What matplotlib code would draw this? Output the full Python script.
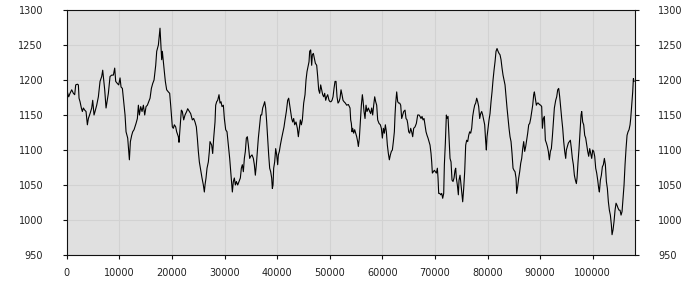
import matplotlib
matplotlib.use("Agg")
import matplotlib.pyplot as plt
from matplotlib.ticker import MultipleLocator

# x positions (sample index) and values
x_vals = [
    0, 127, 380, 634, 951, 1267, 1521, 1711, 2028, 2218, 2345, 2535, 2788, 2978, 3169, 3422, 3675, 3929,
    4119, 4436, 4753, 4943, 5196, 5386, 5703, 6020, 6337, 6654, 6844, 7034, 7224, 7478, 7668, 7921, 8238,
    8555, 8872, 9125, 9315, 9632, 9886, 10139, 10329, 10583, 10836, 11090, 11280, 11597, 11787, 11914,
    12104, 12357, 12547, 12801, 13181, 13434, 13625, 13815, 14068, 14322, 14575, 14829, 15082, 15336,
    15589, 15843, 16096, 16349, 16603, 16920, 17110, 17427,
    17610, 17737, 17863, 18053, 18180, 18370, 18560, 18750, 19004, 19321, 19574, 19764, 19955, 20081,
    20271, 20461, 20715, 20905, 21222, 21349, 21539, 21792, 21982, 22236, 22489, 22806, 22996, 23250,
    23567, 23883, 24137, 24390, 24644, 24834, 25024, 25214, 25468, 25721, 25975, 26165, 26292, 26482,
    26672, 26925, 27115, 27242, 27559, 27749, 27939, 28193, 28319, 28509, 28700, 28953, 29143, 29333,
    29523, 29777, 29967, 30220, 30474, 30727, 30981, 31234, 31488, 31678, 31868, 32058, 32248, 32502,
    32755, 33009, 33199, 33389, 33579, 33769, 33959, 34149, 34339, 34530, 34783, 34973, 35227, 35480,
    35670,
    35859, 36049, 36239, 36429, 36619, 36873, 37063, 37253, 37443, 37633, 37823, 38014, 38204, 38394,
    38584, 38774, 38964, 39091, 39218, 39344, 39534, 39724, 39915, 40105, 40231, 40421, 40612, 40865,
    41118, 41309, 41499, 41752, 42006, 42196, 42386, 42576, 42766, 42956, 43146, 43337, 43590, 43844,
    44034, 44224, 44414, 44604, 44794, 45047, 45301, 45491, 45681, 45871, 46061, 46188, 46378, 46568,
    46695, 46885, 47075, 47265, 47519, 47709, 47899, 48089, 48279, 48470, 48660, 48850, 49040, 49230,
    49420, 49610, 49864, 50054, 50244, 50434, 50624, 50814, 51004, 51194, 51385, 51575, 51765, 51955,
    52145, 52335, 52525, 52715, 52969, 53222, 53539,
    53856, 53982, 54109, 54236, 54363, 54553, 54743, 54933, 55123, 55313, 55440, 55630, 55820, 56010,
    56200, 56327, 56517, 56707, 56897, 57087, 57341, 57594, 57784, 57975, 58165, 58355, 58545, 58735,
    58925, 59115, 59369, 59622, 59812, 60002, 60193, 60383, 60573, 60763, 60953, 61143, 61333, 61523,
    61713, 61904, 62094, 62284, 62411, 62537, 62727, 62917, 63107, 63297, 63488, 63678, 63868, 64058,
    64312, 64502, 64692, 64819, 65009, 65199, 65389, 65579, 65769, 65959, 66213, 66466, 66720, 66973,
    67163, 67353, 67543, 67734, 67924, 68114, 68304, 68494, 68684, 68874, 69064, 69254, 69381, 69508,
    69698, 69888, 70078, 70268, 70458, 70585, 70712, 70902, 71092, 71283, 71473, 71663, 71790,
    71978, 72168, 72295, 72485, 72675, 72865, 73055, 73245, 73435, 73626, 73816, 73942, 74069, 74259,
    74449, 74576, 74766, 74893, 75083, 75273, 75463, 75653, 75843, 76034, 76224, 76414, 76604, 76794,
    76984, 77174, 77364, 77554, 77744, 77935, 78125, 78315, 78505, 78695, 78885, 79075, 79265, 79455,
    79645, 79772, 79899, 80089, 80279, 80469, 80660, 80850, 81040, 81230, 81420, 81610, 81800, 81990,
    82180, 82370, 82561, 82751, 82941, 83131, 83321, 83511, 83701, 83891, 84081, 84272, 84462, 84652,
    84842, 85032, 85222, 85412, 85539, 85729, 85919, 86109, 86300, 86490, 86680, 86870, 87060, 87250,
    87440, 87630, 87820, 88010, 88200, 88391, 88581, 88771, 88898, 89088, 89278, 89468, 89658, 89848,
    90101, 90291, 90418, 90608, 90798, 90988, 91179, 91369, 91559, 91749, 91939, 92129, 92319, 92509,
    92699, 92953, 93143, 93333, 93523, 93713, 93903, 94094, 94284, 94474, 94664, 94854, 94981, 95171,
    95361, 95551, 95741, 95931, 96121, 96312, 96502, 96692, 96882, 97009, 97199, 97389, 97579, 97769,
    97896, 98086, 98276, 98466, 98656, 98846, 99036, 99227, 99417, 99607, 99797, 99987, 100177, 100367,
    100557, 100747, 100938, 101128, 101255, 101445, 101635, 101825, 102015, 102205, 102395, 102585,
    102775, 102965, 103156, 103346, 103536, 103663, 103853, 104043, 104233, 104423, 104613, 104803,
    104993, 105183, 105374, 105564, 105754, 105944, 106134, 106324, 106514, 106704, 106894, 107085,
    107211, 107338, 107465, 107592, 107719, 107845,
]

y_vals = [
    1157, 1183, 1176, 1181, 1186, 1181, 1179, 1193, 1194, 1193, 1174, 1169, 1160, 1155, 1160, 1157, 1155, 1136,
    1145, 1152, 1160, 1171, 1150, 1155, 1164, 1176, 1198, 1205, 1214, 1200, 1186, 1160, 1169, 1181, 1205,
    1207, 1207, 1217, 1198, 1195, 1193, 1203, 1190, 1188, 1169, 1150, 1126, 1117, 1098, 1086,
    1112, 1121, 1126, 1129, 1138, 1145, 1164, 1150, 1162, 1155, 1164, 1150, 1162, 1164,
    1169, 1174, 1188, 1195, 1200, 1221, 1241, 1250,
    1264, 1274, 1255, 1229, 1241, 1226, 1212, 1198, 1186, 1183, 1181, 1164, 1145, 1133,
    1131, 1136, 1133, 1126, 1119, 1111, 1131, 1157, 1155, 1143, 1150, 1155, 1159, 1156,
    1152, 1143, 1145, 1140, 1133, 1117, 1098, 1083, 1071, 1060, 1050, 1040, 1050, 1060,
    1074, 1083, 1098, 1112, 1107, 1095, 1117, 1140, 1164, 1169, 1171, 1179, 1167, 1169,
    1162, 1164, 1145, 1129, 1126, 1107, 1088, 1064, 1040, 1055, 1060, 1050, 1055, 1050,
    1055, 1060, 1074, 1079, 1069, 1088, 1098, 1117, 1119, 1107, 1088, 1091, 1093, 1088,
    1079,
    1064, 1079, 1098, 1117, 1131, 1150, 1150, 1160, 1164, 1169, 1160, 1140, 1117, 1093,
    1074, 1069, 1060, 1045, 1050, 1074, 1083, 1102, 1093, 1079, 1093, 1098, 1107, 1117,
    1126, 1133, 1143, 1155, 1171, 1174, 1164, 1155, 1145, 1140, 1145, 1136, 1140, 1131,
    1119, 1131, 1143, 1136, 1143, 1167, 1179, 1200, 1212, 1219, 1226, 1241, 1243, 1221,
    1236, 1238, 1231, 1224, 1221, 1205, 1186, 1181, 1193, 1186, 1179, 1176, 1181, 1171,
    1176, 1179, 1171, 1169, 1169, 1171, 1176, 1188, 1198, 1198, 1176, 1167, 1169, 1174,
    1186, 1179, 1171, 1169, 1167, 1164, 1165,
    1160, 1143, 1138, 1126, 1131, 1124, 1129, 1124, 1119, 1112, 1105, 1117, 1140, 1164,
    1179, 1171, 1155, 1145, 1164, 1155, 1160, 1155, 1152, 1160, 1150, 1164, 1176, 1169,
    1164, 1143, 1138, 1136, 1131, 1117, 1131, 1124, 1136, 1126, 1107, 1095, 1086, 1093,
    1098, 1100, 1112, 1126, 1150, 1167, 1183, 1169, 1167, 1167, 1164, 1145, 1150, 1155,
    1157, 1145, 1143, 1138, 1126, 1124, 1131, 1126, 1119, 1131, 1133, 1138, 1150, 1150,
    1148, 1145, 1148, 1143, 1145, 1136, 1126, 1121, 1117, 1112, 1107, 1095, 1083, 1067,
    1069, 1071, 1069, 1067, 1074, 1060, 1038, 1038, 1036, 1038, 1031, 1038, 1079,
    1110, 1150, 1145, 1148, 1117, 1088, 1083, 1057, 1055, 1060, 1071, 1074, 1060, 1050,
    1036, 1057, 1064, 1055, 1040, 1026, 1045, 1069, 1107, 1114, 1112, 1121, 1126, 1124,
    1131, 1148, 1157, 1164, 1167, 1174, 1169, 1162, 1145, 1152, 1155, 1150, 1143, 1136,
    1112, 1100, 1119, 1131, 1143, 1152, 1169, 1183, 1200, 1214, 1226, 1241, 1245, 1241,
    1238, 1236, 1229, 1217, 1207, 1200, 1193, 1176, 1160, 1145, 1131, 1119, 1112, 1095,
    1074, 1071, 1069, 1060, 1038, 1048, 1060, 1069, 1081, 1088, 1102, 1112, 1098, 1105,
    1114, 1124, 1136, 1138, 1145, 1155, 1164, 1179, 1183, 1174, 1164, 1167, 1167, 1165,
    1164, 1162, 1131, 1145, 1148, 1114, 1110, 1105, 1098, 1086, 1098, 1102, 1119, 1140,
    1160, 1171, 1176, 1186, 1188, 1176, 1160, 1145, 1131, 1112, 1098, 1088, 1100, 1105,
    1110, 1112, 1114, 1102, 1088, 1079, 1064, 1057, 1052, 1060, 1083, 1102, 1126, 1150,
    1155, 1140, 1136, 1121, 1117, 1107, 1098, 1091, 1102, 1095, 1088, 1100, 1098, 1091,
    1074, 1067, 1057, 1045, 1040, 1057, 1064, 1076, 1079, 1088, 1079, 1055,
    1045, 1026, 1014, 1007, 993, 979, 986, 998, 1014, 1024, 1021, 1017,
    1014, 1014, 1007, 1012, 1031, 1050, 1079, 1102, 1121, 1126, 1129, 1136,
    1145, 1157, 1169, 1183, 1202, 1198,
]

x_ticks = [0, 10000, 20000, 30000, 40000, 50000, 60000, 70000, 80000, 90000, 100000]
y_ticks = [950, 1000, 1050, 1100, 1150, 1200, 1250, 1300]

fig = plt.figure(figsize=(7, 3), dpi=100)
ax = fig.add_axes([66.7 / 700, 1 - 255 / 300, (634.7 - 66.7) / 700, 245 / 300])
ax.set_facecolor('#e0e0e0')
ax.plot(x_vals, y_vals, color='black', linewidth=0.8)
ax.set_xlim(0, 107970)
ax.set_ylim(950, 1300)
ax.set_xticks(x_ticks)
ax.set_xticklabels([str(v) for v in x_ticks])
ax.set_yticks(y_ticks)
ax.grid(True, color='#d2d2d2', linewidth=0.8)
ax.set_axisbelow(True)
for s in ax.spines.values():
    s.set_color('#111111')
    s.set_linewidth(0.8)
ax.tick_params(axis='y', which='both', left=True, right=True, labelleft=True, labelright=True,
               length=3, width=0.8, color='#111111', labelsize=7, labelcolor='#222222', pad=14)
ax.tick_params(axis='x', length=3, width=0.8, color='#111111', labelsize=7, labelcolor='#222222', pad=6)
fig.savefig('out.png', dpi=100)
